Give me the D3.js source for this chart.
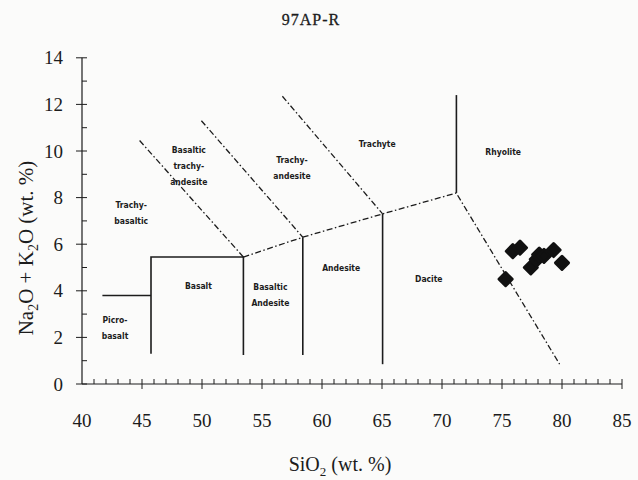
<!DOCTYPE html>
<html>
<head>
<meta charset="utf-8">
<script src="https://cdn.jsdelivr.net/npm/d3@7"></script>
<style>
  body { margin: 0; background: #fbfbfa; }
  svg { display: block; }
</style>
</head>
<body>
<svg id="chart" width="638" height="480"></svg>
<script>
// sample 97AP-R, SiO2 vs total alkali
const sio2 = [75.3, 75.9, 76.5, 77.4, 77.9, 78.1, 78.5, 79.3, 80.0];
const alkali = [4.5, 5.7, 5.85, 5.0, 5.35, 5.55, 5.5, 5.75, 5.2];

const xTicks = [40, 45, 50, 55, 60, 65, 70, 75, 80, 85];
const yTicks = [0, 2, 4, 6, 8, 10, 12, 14];

// field boundaries, [SiO2, Na2O+K2O]
const solidLines = [
  [[41.7, 3.8], [45.75, 3.8]],
  [[45.75, 1.3], [45.75, 5.45], [53.45, 5.45], [53.45, 1.25]],
  [[58.4, 6.3], [58.4, 1.25]],
  [[65.05, 7.3], [65.05, 0.85]],
  [[71.2, 8.2], [71.2, 12.4]]
];
const dashLines = [
  [[53.45, 5.45], [58.4, 6.3], [65.05, 7.3], [71.2, 8.2]],
  [[44.8, 10.45], [53.45, 5.45]],
  [[49.95, 11.3], [58.4, 6.3]],
  [[56.7, 12.35], [65.05, 7.3]],
  [[71.3, 8.1], [79.8, 0.85]]
];

const fieldNames = [
  ["Trachy-", "basaltic"],
  ["Basaltic", "trachy-", "andesite"],
  ["Trachy-", "andesite"],
  ["Trachyte"],
  ["Rhyolite"],
  ["Basalt"],
  ["Basaltic", "Andesite"],
  ["Andesite"],
  ["Dacite"],
  ["Picro-", "basalt"]
];
const fieldX = [44.1, 48.9, 57.5, 64.6, 75.1, 49.7, 55.7, 61.6, 68.9, 42.75];
const fieldY = [7.36, 9.36, 9.26, 10.29, 9.97, 4.2, 3.84, 5.0, 4.49, 2.4];

const svg = d3.select("#chart");
const x = d3.scaleLinear().domain([40, 85]).range([82, 622]);
const y = d3.scaleLinear().domain([0, 14]).range([384, 57.8]);
const ink = "#1c1c1c";

// axes
const xAxis = svg.append("g").attr("transform", `translate(0,${y(0)})`);
xAxis.append("line").attr("x1", x(40)).attr("x2", x(85)).attr("stroke", ink).attr("stroke-width", 1.2);
xAxis.selectAll(".minor").data(d3.range(41, 86)).join("line")
  .attr("x1", d => x(d)).attr("x2", d => x(d))
  .attr("y1", -5).attr("y2", d => d % 5 === 0 ? 5 : 0)
  .attr("stroke", ink).attr("stroke-width", 1);
xAxis.selectAll(".tl").data(xTicks).join("text")
  .attr("x", d => x(d)).attr("y", 43)
  .attr("text-anchor", "middle")
  .attr("font-family", "Liberation Serif").attr("font-size", 19)
  .attr("fill", ink).text(d => d);

const yAxis = svg.append("g").attr("transform", `translate(${x(40)},0)`);
yAxis.append("line").attr("y1", y(0)).attr("y2", y(14)).attr("stroke", ink).attr("stroke-width", 1.2);
yAxis.selectAll(".minor").data(d3.range(0, 15)).join("line")
  .attr("y1", d => y(d)).attr("y2", d => y(d))
  .attr("x1", d => d % 2 === 0 ? -6 : 0).attr("x2", 5)
  .attr("stroke", ink).attr("stroke-width", 1);
yAxis.selectAll(".tl").data(yTicks).join("text")
  .attr("x", -19).attr("y", d => y(d) + 6.5)
  .attr("text-anchor", "end")
  .attr("font-family", "Liberation Serif").attr("font-size", 19)
  .attr("fill", ink).text(d => d);

// titles
svg.append("text").attr("x", 311).attr("y", 25)
  .attr("text-anchor", "middle").attr("font-family", "Liberation Serif")
  .attr("font-size", 16).attr("letter-spacing", 1).attr("fill", ink)
  .attr("stroke", ink).attr("stroke-width", 0.3)
  .text("97AP-R");

const xt = svg.append("text").attr("x", 340).attr("y", 471)
  .attr("text-anchor", "middle").attr("font-family", "Liberation Serif")
  .attr("font-size", 20).attr("fill", ink);
xt.append("tspan").text("SiO");
xt.append("tspan").attr("font-size", 13).attr("dy", 5).text("2");
xt.append("tspan").attr("dy", -5).text(" (wt. %)");

const yt = svg.append("text").attr("transform", "translate(33,248) rotate(-90)")
  .attr("text-anchor", "middle").attr("font-family", "Liberation Serif")
  .attr("font-size", 21).attr("fill", ink);
yt.append("tspan").text("Na");
yt.append("tspan").attr("font-size", 14).attr("dy", 5).text("2");
yt.append("tspan").attr("dy", -5).text("O + K");
yt.append("tspan").attr("font-size", 14).attr("dy", 5).text("2");
yt.append("tspan").attr("dy", -5).text("O (wt. %)");

// field boundaries
const line = d3.line().x(d => x(d[0])).y(d => y(d[1]));
svg.append("g").selectAll("path").data(solidLines).join("path")
  .attr("d", line).attr("fill", "none")
  .attr("stroke", ink).attr("stroke-width", 1.6);
svg.append("g").selectAll("path").data(dashLines).join("path")
  .attr("d", line).attr("fill", "none")
  .attr("stroke", ink).attr("stroke-width", 1.3)
  .attr("stroke-dasharray", "6,2.5,1.5,2.5");

// field names
const names = svg.append("g")
  .attr("font-family", "DejaVu Sans Condensed, DejaVu Sans")
  .attr("font-weight", "bold").attr("font-size", 8.5)
  .attr("fill", ink).attr("text-anchor", "middle");
fieldNames.forEach((lines, i) => {
  const t = names.append("text")
    .attr("x", x(fieldX[i]))
    .attr("y", y(fieldY[i]) - (lines.length - 1) * 8 + 3);
  lines.forEach((s, j) => {
    t.append("tspan").attr("x", x(fieldX[i])).attr("dy", j ? 16 : 0).text(s);
  });
});

// samples
svg.append("g").selectAll("path").data(sio2).join("path")
  .attr("transform", (d, i) => `translate(${x(d)},${y(alkali[i])}) rotate(45)`)
  .attr("d", d3.symbol(d3.symbolSquare, 85))
  .attr("fill", "#111").attr("stroke", "#111")
  .attr("stroke-width", 3).attr("stroke-linejoin", "round");
</script>
</body>
</html>
